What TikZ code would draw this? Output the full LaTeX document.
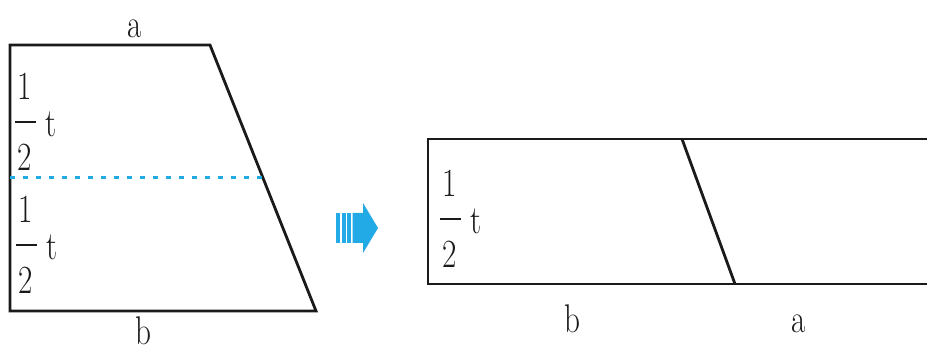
\documentclass[tikz,border=0pt]{standalone}
\usepackage{graphicx}
\definecolor{cyanA}{HTML}{22AAE6}
\definecolor{inkA}{HTML}{1A1A1A}
\newcommand{\nar}[1]{\scalebox{0.78}[1]{#1}}
\tikzset{
  edge/.style={line width=2.8pt, draw=inkA, line join=miter},
  midline/.style={line width=3pt, draw=cyanA, dash pattern=on 5pt off 8pt},
  lab/.style={font=\fontsize{40}{48}\selectfont, inner sep=0pt, anchor=base, text=inkA},
  half t/.pic={
    \node[lab] (one) at (10,-22) {\nar{1}};
    \node[lab] (two) at (10,49) {\nar{2}};
    \node[lab] (tt) at (36,15) {\nar{t}};
    \draw[line width=2.4pt, draw=inkA] (0,0) -- (21,0);
  }
}
\begin{document}
\begin{tikzpicture}[x=1pt,y=-1pt]
\useasboundingbox[fill=white] (0,0) rectangle (927,352);
% left trapezoid
\coordinate (TL) at (10,45);
\coordinate (TR) at (210,45);
\coordinate (BR) at (316,311);
\coordinate (BL) at (10,311);
\draw[edge] (TL) -- (TR) -- (BR) -- (BL) -- cycle;
\coordinate (ML) at (10,178);
\coordinate (MR) at (263,178);
\draw[midline] (ML) -- (MR);
\node[lab] (la) at (135,38) {\nar{a}};
\node[lab] (lb) at (143,345) {\nar{b}};
\pic (f1) at (15,122) {half t};
\pic (f2) at (16,245) {half t};
% arrow
\fill[cyanA] (336,213) rectangle (340,243);
\fill[cyanA] (341.5,213) rectangle (345.5,243);
\fill[cyanA] (347,213) rectangle (351,243);
\fill[cyanA] (352.5,213) -- (363,213) -- (363,203) -- (378,228) -- (363,253) -- (363,243) -- (352.5,243) -- cycle;
% right rectangle
\coordinate (RTL) at (428,139);
\coordinate (RBL) at (428,284);
\coordinate (RTR) at (927,139);
\coordinate (RBR) at (927,284);
\coordinate (ST) at (682,139);
\coordinate (SB) at (735,284);
\draw[edge] (RTR) -- (RTL) -- (RBL) -- (RBR);
\draw[edge] (ST) -- (SB);
\pic (f3) at (440,219) {half t};
\node[lab] (rb) at (572,333) {\nar{b}};
\node[lab] (ra) at (799,333) {\nar{a}};
\end{tikzpicture}
\end{document}
